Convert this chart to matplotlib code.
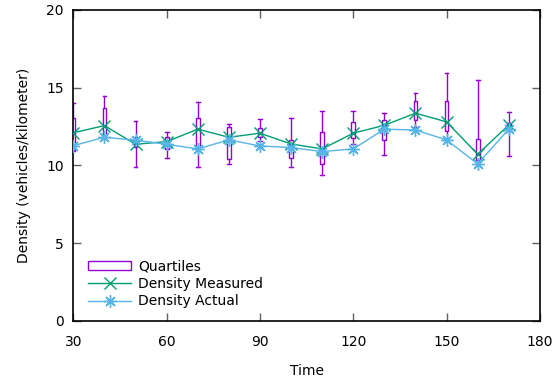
import matplotlib
matplotlib.use("Agg")
import matplotlib.pyplot as plt
from matplotlib.patches import Rectangle
from matplotlib.lines import Line2D

time = [30, 40, 50, 60, 70, 80, 90, 100, 110, 120, 130, 140, 150, 160, 170]
whisker_low = [10.9, 11.7, 9.9, 10.5, 9.9, 10.1, 11.6, 9.9, 9.4, 11.4, 10.7, 12.5, 11.6, 10.1, 10.6]
q1 = [11.0, 11.9, 11.2, 11.06, 11.2, 10.42, 11.85, 10.46, 10.07, 11.75, 11.64, 12.93, 12.22, 10.35, 12.24]
q3 = [13.05, 13.68, 11.85, 11.8, 13.05, 12.45, 12.38, 11.62, 12.13, 12.82, 12.93, 14.17, 14.17, 11.68, 12.75]
whisker_high = [14.0, 14.47, 12.88, 12.13, 14.08, 12.67, 12.97, 13.08, 13.52, 13.52, 13.4, 14.64, 15.93, 15.5, 13.42]
density_measured = [12.1, 12.56, 11.36, 11.53, 12.33, 11.81, 12.07, 11.38, 11.06, 12.07, 12.58, 13.36, 12.8, 10.72, 12.6]
density_actual = [11.27, 11.81, 11.62, 11.36, 11.06, 11.64, 11.25, 11.15, 10.89, 11.06, 12.33, 12.28, 11.64, 10.1, 12.33]

purple = "#9400D3"
green = "#009E73"
blue = "#56B4E9"

plt.rcParams["font.family"] = ["DejaVu Sans"]
fig = plt.figure(figsize=(5.6, 3.82), dpi=100)
ax = fig.add_axes([0.131, 0.160, 0.833, 0.814])

box_w = 1.2
cap_w = 1.2
for t, lo, a, b, hi in zip(time, whisker_low, q1, q3, whisker_high):
    ax.add_patch(Rectangle((t - box_w / 2, a), box_w, b - a, fill=False,
                           edgecolor=purple, linewidth=1.0, zorder=2))
    ax.plot([t, t], [b, hi], color=purple, lw=1.0, zorder=2)
    ax.plot([t, t], [lo, a], color=purple, lw=1.0, zorder=2)
    ax.plot([t - cap_w / 2, t + cap_w / 2], [hi, hi], color=purple, lw=1.0, zorder=2)
    ax.plot([t - cap_w / 2, t + cap_w / 2], [lo, lo], color=purple, lw=1.0, zorder=2)

ax.plot(time, density_measured, color=green, lw=1.0, marker="x", ms=8.5,
        mew=1.0, zorder=3)
ax.plot(time, density_actual, color=blue, lw=1.0, marker=(8, 2, 0), ms=9,
        mew=1.0, zorder=3)

ax.set_xlim(30, 180)
ax.set_ylim(0, 20)
ax.set_xticks([30, 60, 90, 120, 150, 180])
ax.set_yticks([0, 5, 10, 15, 20])
ax.tick_params(direction="in", length=6, width=1, color="#606060",
               top=True, right=True, labelsize=10)
ax.tick_params(axis="x", pad=10)
ax.tick_params(axis="y", pad=7)
for s in ax.spines.values():
    s.set_linewidth(1.2)
    s.set_color("black")

ax.set_xlabel("Time", fontsize=10, labelpad=11)
ax.set_ylabel("Density (vehicles/kilometer)", fontsize=10, labelpad=11)

handles = [
    Rectangle((0, 0), 1, 1, fill=False, edgecolor=purple, linewidth=1.0),
    Line2D([], [], color=green, lw=1.0, marker="x", ms=8.5, mew=1.0),
    Line2D([], [], color=blue, lw=1.0, marker=(8, 2, 0), ms=9, mew=1.0),
]
ax.legend(handles, ["Quartiles", "Density Measured", "Density Actual"],
          loc="lower left", bbox_to_anchor=(0.005, 0.0), frameon=False,
          fontsize=10, handlelength=3.1, handleheight=0.7, labelspacing=0.25,
          handletextpad=0.5)

fig.savefig("out.png", dpi=100)
